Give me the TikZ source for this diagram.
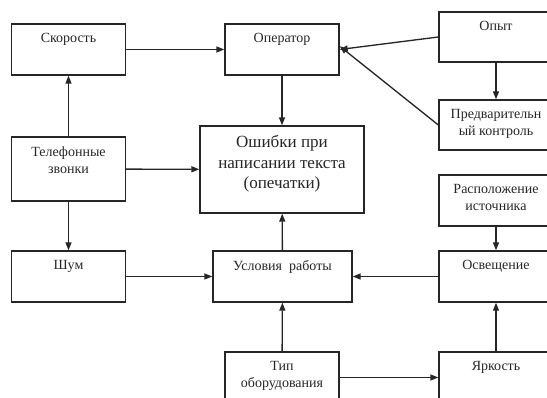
\documentclass[tikz,border=0pt]{standalone}
\usepackage{fontspec}
\setmainfont{Liberation Serif}
\usetikzlibrary{arrows.meta}

\begin{document}
\begin{tikzpicture}[x=0.75pt,y=0.75pt,yscale=-1,xscale=1,
  box/.style={draw=black!85,line width=1pt,inner sep=0pt,minimum width=85.5pt,minimum height=38.25pt},
  txt/.style={anchor=north,align=center,inner sep=0.75pt,text=black!85,font=\fontsize{10.5}{12.6}\selectfont},
  bigtxt/.style={txt,font=\fontsize{12.8}{15.2}\selectfont},
  arr/.style={draw=black!85,line width=1pt,-{Triangle[length=6pt,width=4.5pt]}}]
\useasboundingbox (0,0) rectangle (547,398);
\clip (0,0) rectangle (547,398);

% Boxes
\node[box] (skor) at (68.5,49.5) {};
\node[box] (oper) at (282,49.5) {};
\node[box,minimum height=37.5pt] (opyt) at (496,37) {};
\node[box,minimum height=37.5pt] (predv) at (496,125) {};
\node[box,minimum width=123pt,minimum height=65.25pt] (osh) at (282,169.5) {};
\node[box,minimum height=48pt] (tel) at (68.5,169) {};
\node[box] (rasp) at (496,200.5) {};
\node[box] (shum) at (68.5,276.5) {};
\node[box,minimum width=104.25pt] (usl) at (282.5,276.5) {};
\node[box] (osv) at (496,276.5) {};
\node[box] (tip) at (282,377.5) {};
\node[box] (yark) at (496,377.5) {};

% Text Node
\node[txt] (skor-t) at ([yshift=6.75pt]skor.north) {Скорость};
\node[txt] (oper-t) at ([yshift=6.75pt]oper.north) {Оператор};
\node[txt] (opyt-t) at ([yshift=6.75pt]opyt.north) {Опыт};
\node[txt] (predv-t) at ([yshift=6.75pt]predv.north) {Предварительн\\ый контроль};
\node[bigtxt] (osh-t) at ([yshift=6.75pt]osh.north) {Ошибки при\\написании текста\\(опечатки)};
\node[txt] (tel-t) at ([yshift=6.75pt]tel.north) {Телефонные\\звонки};
\node[txt] (rasp-t) at ([yshift=6.75pt]rasp.north) {Расположение\\источника};
\node[txt] (shum-t) at ([yshift=6.75pt]shum.north) {Шум};
\node[txt] (usl-t) at ([yshift=6.75pt]usl.north) {Условия~ работы};
\node[txt] (osv-t) at ([yshift=6.75pt]osv.north) {Освещение};
\node[txt] (tip-t) at ([yshift=6.75pt]tip.north) {Тип\\оборудования};
\node[txt] (yark-t) at ([yshift=6.75pt]yark.north) {Яркость};

% Arrows
\draw[arr] (skor) -- (oper);
\draw[arr] (oper) -- (osh);
\draw[arr] (opyt.west) -- (oper.east);
\draw[arr] (predv.west) -- ([yshift=-2.5pt]oper.east);
\draw[arr] (opyt) -- (predv);
\draw[arr] (tel) -- (skor);
\draw[arr] (tel) -- (osh);
\draw[arr] (tel) -- (shum);
\draw[arr] (shum) -- (usl);
\draw[arr] (usl) -- (osh);
\draw[arr] (osv) -- (usl);
\draw[arr] (rasp) -- (osv);
\draw[arr] (tip) -- (usl);
\draw[arr] (tip) -- (yark);
\draw[arr] (yark) -- (osv);

\end{tikzpicture}
\end{document}
